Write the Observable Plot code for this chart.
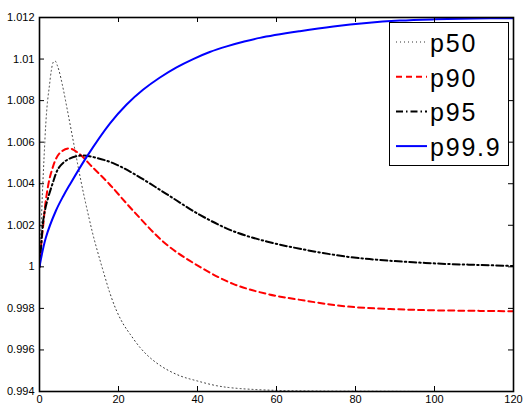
<!DOCTYPE html>
<html><head><meta charset="utf-8">
<script src="https://cdn.jsdelivr.net/npm/d3@7"></script>
<script src="https://cdn.jsdelivr.net/npm/@observablehq/plot@0.6"></script>
<style>
body{margin:0;background:#fff}
#chart{width:525px;height:406px}
</style>
</head><body><div id="chart"></div>
<script>
const seriesNames = ["p50", "p90", "p95", "p99.9"];

const p50X = [0, 0.4, 0.8, 1.2, 1.6, 2.0, 2.5, 3.0, 3.5, 4.0, 4.5, 5, 5.8, 7.1, 8.4, 9.6, 10.9, 12.6, 13.6, 14.9, 16.2, 17.8, 19.5, 21.2, 22.9, 25.4, 27.9, 31.3, 35.5, 39.7, 44.8, 49, 57.5, 70, 85, 100, 120];
const p50Y = [1.0000, 1.0019, 1.0038, 1.00545, 1.0069, 1.0079, 1.0087, 1.00945, 1.00985, 1.0099, 1.0097, 1.0094, 1.00875, 1.00750, 1.00620, 1.00500, 1.00375, 1.00230, 1.00150, 1.00060, 0.99975, 0.99875, 0.99789, 0.99725, 0.99677, 0.99613, 0.99564, 0.99516, 0.99476, 0.99452, 0.99428, 0.99417, 0.99407, 0.99402, 0.99401, 0.99400, 0.99400];

const p90X = [0, 0.5, 1, 1.6, 2.9, 5, 7.5, 10, 13.4, 17.6, 23.7, 32, 40.6, 49, 57.5, 66, 78, 95, 111.5, 120];
const p90Y = [1.0000, 1.0012, 1.0021, 1.0032, 1.0045, 1.00545, 1.0057, 1.00545, 1.0048, 1.0040, 1.0027, 1.0011, 1.0000, 0.99918, 0.9987, 0.99841, 0.99809, 0.99793, 0.99788, 0.99786];

const p95X = [0, 0.4, 1.2, 3.3, 5, 7.5, 10.9, 14.3, 18.5, 23.7, 32.2, 40.6, 49, 57.5, 65.9, 77.7, 86.2, 94.6, 103, 111.5, 120];
const p95Y = [1.0000, 1.00095, 1.00255, 1.0040, 1.0048, 1.0052, 1.00536, 1.00525, 1.00500, 1.00450, 1.00350, 1.00250, 1.00172, 1.00122, 1.00087, 1.00049, 1.00033, 1.00022, 1.00014, 1.00009, 1.00004];

const p999X = [0, 1.6, 4.15, 6, 7.5, 11.9, 17.8, 22, 26.2, 30.4, 34.7, 38.9, 43.1, 47.4, 51.6, 55.8, 65.9, 74.4, 82.8, 91.2, 100, 110, 120];
const p999Y = [1.0000, 1.0014, 1.0027, 1.0034, 1.0039, 1.00528, 1.00689, 1.00780, 1.00852, 1.00910, 1.00960, 1.01000, 1.01034, 1.01061, 1.01083, 1.01102, 1.01134, 1.01157, 1.01174, 1.01185, 1.01191, 1.01195, 1.01197];

const xTicks = [0, 20, 40, 60, 80, 100, 120];
const yTicks = [0.994, 0.996, 0.998, 1.000, 1.002, 1.004, 1.006, 1.008, 1.010, 1.012];

const seriesX = [p50X, p90X, p95X, p999X];
const seriesY = [p50Y, p90Y, p95Y, p999Y];

const lineStyles = [
  {stroke: "#333", strokeWidth: 1, strokeDasharray: "1,3"},
  {stroke: "#ff0000", strokeWidth: 2, strokeDasharray: "6,4"},
  {stroke: "#000000", strokeWidth: 2, strokeDasharray: "7,3,1.5,3"},
  {stroke: "#0000ff", strokeWidth: 2, strokeDasharray: null}
];

const rows = seriesNames.map((name, i) => seriesX[i].map((x, j) => ({series: name, x, y: seriesY[i][j]})));

const W = 525, H = 406;
const mL = 39, mR = 12, mT = 17, mB = 15;
const innerW = W - mL - mR, innerH = H - mT - mB;
const FONT = "'Liberation Sans', Arial, Helvetica, sans-serif";

const plot = Plot.plot({
  width: W, height: H,
  marginLeft: mL, marginRight: mR, marginTop: mT, marginBottom: mB,
  style: {fontFamily: FONT, fontSize: "11px", color: "#000", background: "#fff"},
  x: {domain: [0, 120]},
  y: {domain: [0.994, 1.012]},
  marks: [
    ...rows.map((data, i) => Plot.line(data, {x: "x", y: "y", curve: "catmull-rom", clip: true, ...lineStyles[i]})),
    Plot.tickX(xTicks, {x: d => d, stroke: "#000", insetTop: innerH - 5}),
    Plot.tickX(xTicks, {x: d => d, stroke: "#000", insetBottom: innerH - 5}),
    Plot.tickY(yTicks, {y: d => d, stroke: "#000", insetRight: innerW - 5}),
    Plot.tickY(yTicks, {y: d => d, stroke: "#000", insetLeft: innerW - 5}),
    Plot.frame({stroke: "#000", strokeWidth: 1.6}),
    Plot.axisX(xTicks, {tickSize: 0, tickPadding: 4, label: null, fontSize: 11}),
    Plot.axisY(yTicks, {tickSize: 0, tickPadding: 5, label: null, fontSize: 11, tickFormat: d => String(+d.toFixed(3))})
  ]
});

document.getElementById("chart").appendChild(plot);

// legend
const svg = d3.select(plot);
const lg = svg.append("g").attr("class", "legend").attr("text-anchor", "start");
lg.append("rect").attr("x", 389.5).attr("y", 22.5).attr("width", 119).attr("height", 143)
  .attr("fill", "#fff").attr("stroke", "#000").attr("stroke-width", 1);
seriesNames.forEach((name, i) => {
  const yy = 42 + i * 34.7;
  const s = lineStyles[i];
  lg.append("line").attr("x1", 396).attr("x2", 427).attr("y1", yy).attr("y2", yy)
    .attr("stroke", s.stroke).attr("stroke-width", s.strokeWidth)
    .attr("stroke-dasharray", s.strokeDasharray);
  lg.append("text").attr("x", 430).attr("y", yy + 10).text(name)
    .attr("text-anchor", "start")
    .attr("font-family", FONT)
    .attr("font-size", 25).attr("letter-spacing", "1.8px").attr("fill", "#000");
});
</script>
</body></html>
